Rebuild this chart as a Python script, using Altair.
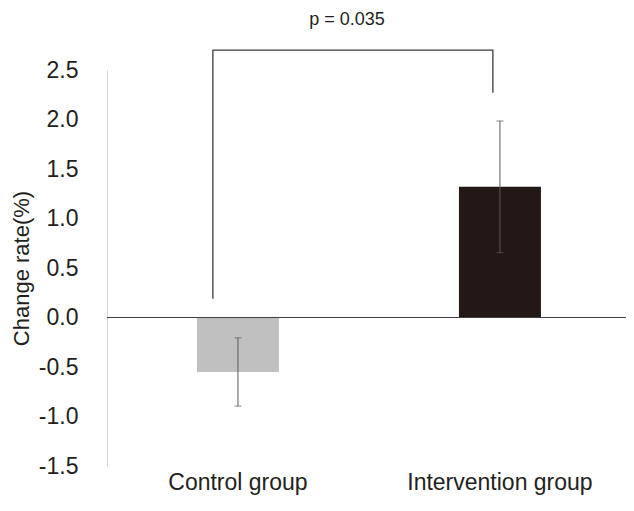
import altair as alt
import pandas as pd

# ---- data ----
groups = ["Control group", "Intervention group"]
means = [-0.55, 1.32]
errs = [0.345, 0.665]
bar_colors = ["#bfc0bf", "#231816"]

# significance bracket (x in category-index units: 0..2 spans the plot)
bracket_x = [0.408, 0.408, 1.487, 1.487]
bracket_y = [0.19, 2.70, 2.70, 2.27]
bracket_order = [0, 1, 2, 3]
p_label = ["p = 0.035"]
p_x = [0.925]
p_y = [3.01]

y_ticks = [-1.5, -1.0, -0.5, 0.0, 0.5, 1.0, 1.5, 2.0, 2.5]

FONT = "Liberation Sans"

df = pd.DataFrame({"group": groups, "mean": means, "err": errs, "color": bar_colors})
df["lo"] = df["mean"] - df["err"]
df["hi"] = df["mean"] + df["err"]

br = pd.DataFrame({"bx": bracket_x, "by": bracket_y, "o": bracket_order})
pt = pd.DataFrame({"label": p_label, "px": p_x, "py": p_y})

yscale = alt.Scale(domain=[-1.5, 2.5], nice=False, zero=False)
yaxis = alt.Axis(
    values=y_ticks,
    labelExpr="(datum.value < 0 ? '-' : '') + format(abs(datum.value), '.1f')",
    ticks=False,
    tickSize=0,
    grid=False,
    domain=True,
    domainColor="#d4d4d4",
    domainWidth=1,
    labelFont=FONT,
    labelFontSize=23,
    labelColor="#231f20",
    labelPadding=29,
    title="Change rate(%)",
    titleFont=FONT,
    titleFontSize=22,
    titleFontWeight="normal",
    titleColor="#231f20",
    titlePadding=5,
)
xscale = alt.Scale(paddingInner=0.687, paddingOuter=0.334, align=0.514)
xaxis = alt.Axis(
    title=None,
    ticks=False,
    domain=False,
    labelAngle=0,
    labelFont=FONT,
    labelFontSize=23,
    labelColor="#231f20",
    labelPadding=5,
    labelLimit=0,
)

X = alt.X("group:N", scale=xscale, axis=xaxis, sort=groups)

bars = alt.Chart(df).mark_bar().encode(
    x=X,
    y=alt.Y("mean:Q", scale=yscale, axis=yaxis),
    color=alt.Color("color:N", scale=None),
)

zero = alt.Chart(df).mark_rule(color="#404040", strokeWidth=1.2).encode(
    y=alt.datum(0, scale=yscale, axis=yaxis)
)

ebar = alt.Chart(df).mark_rule(color="#5a5a5a", strokeWidth=1).encode(
    x=X,
    y=alt.Y("lo:Q", scale=yscale, axis=yaxis),
    y2="hi:Q",
)
cap_lo = alt.Chart(df).mark_tick(color="#5a5a5a", size=7, thickness=1).encode(
    x=X, y=alt.Y("lo:Q", scale=yscale, axis=yaxis)
)
cap_hi = alt.Chart(df).mark_tick(color="#5a5a5a", size=7, thickness=1).encode(
    x=X, y=alt.Y("hi:Q", scale=yscale, axis=yaxis)
)

qx = alt.Scale(domain=[0, 2], nice=False, zero=False)
bracket = alt.Chart(br).mark_line(color="#3c3c3c", strokeWidth=1.3).encode(
    x=alt.X("bx:Q", scale=qx, axis=None),
    y=alt.Y("by:Q", scale=yscale, axis=yaxis),
    order="o:Q",
)
ptext = alt.Chart(pt).mark_text(
    font=FONT, fontSize=18, color="#231f20", baseline="middle", align="center"
).encode(
    x=alt.X("px:Q", scale=qx, axis=None),
    y=alt.Y("py:Q", scale=yscale, axis=yaxis),
    text="label:N",
)

base = alt.layer(bars, ebar, cap_lo, cap_hi, zero).resolve_scale(x="shared")
chart = (
    alt.layer(base, bracket, ptext)
    .resolve_scale(x="independent")
    .properties(
        width=519,
        height=396,
        background="white",
        autosize=alt.AutoSizeParams(type="none"),
        padding={"left": 99, "top": 62, "right": 0, "bottom": 31},
    )
    .configure_view(strokeWidth=0, stroke="transparent")
)

chart.save("out.html", embed_options={"renderer": "svg", "actions": False})
